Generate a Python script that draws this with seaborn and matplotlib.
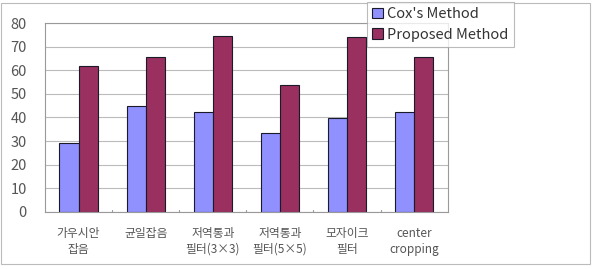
import matplotlib
matplotlib.use("Agg")
import matplotlib.pyplot as plt
import seaborn as sns
import pandas as pd
from matplotlib.patches import Rectangle

categories = ["가우시안\n잡음", "균일잡음", "저역통과\n필터(3×3)", "저역통과\n필터(5×5)", "모자이크\n필터", "center\ncropping"]
cox = [29, 45, 42.5, 33.5, 39.7, 42.3]
proposed = [62, 65.5, 74.6, 54, 74, 65.5]
series_names = ["Cox's Method", "Proposed Method"]
yticks = [0, 10, 20, 30, 40, 50, 60, 70, 80]

df = pd.DataFrame({
    "category": categories * 2,
    "value": cox + proposed,
    "method": [series_names[0]] * len(categories) + [series_names[1]] * len(categories),
})

sns.set_theme(style="white")
plt.rcParams['font.family'] = ['Noto Sans CJK KR', 'DejaVu Sans']

fig = plt.figure(figsize=(5.93, 2.69), dpi=100)
ax = fig.add_axes([45/593, 1-211.7/269, (447.7-45)/593, (211.7-23.3)/269])

sns.barplot(data=df, x="category", y="value", hue="method", order=categories,
            hue_order=series_names, palette=["#9090FF", "#99305F"], saturation=1,
            width=0.57, edgecolor="#1a1a2a", linewidth=0.8, ax=ax, legend=True)

ax.set_ylim(0, 80)
ax.set_xlim(-0.5, len(categories) - 0.5)
ax.set_yticks(yticks)
ax.set_yticklabels([str(v) for v in yticks], fontsize=10.5, color="#555555")
ax.yaxis.grid(True, color="#bbbbbb", linewidth=0.8)
ax.set_axisbelow(True)
ax.set_xlabel("")
ax.set_ylabel("")
ax.set_xticks(range(len(categories)))
ax.set_xticklabels(categories, fontsize=8.5, color="#555555", linespacing=1.3)
ax.tick_params(axis="x", length=0, pad=11)
ax.tick_params(axis="y", length=0, pad=13)
for x in [i + 0.5 for i in range(len(categories) - 1)]:
    ax.plot([x, x], [0, 0.8], color="#999999", linewidth=0.8, clip_on=False)
for s in ax.spines.values():
    s.set_color("#999999")
    s.set_linewidth(0.8)

handles, labels = ax.get_legend_handles_labels()
if ax.get_legend() is not None:
    ax.get_legend().remove()
for h in handles:
    h.set_edgecolor("#1a1a2a")
    h.set_linewidth(0.8)
leg = fig.legend(handles, labels, loc="upper left",
                 bbox_to_anchor=(366.7/593, 1-2/269), fontsize=10.5,
                 frameon=True, fancybox=False, handlelength=0.75, handleheight=0.75,
                 handletextpad=0.3, borderpad=0.35, labelspacing=0.45,
                 borderaxespad=0)
leg.get_frame().set_edgecolor("#aaaaaa")
leg.get_frame().set_linewidth(0.8)
for t in leg.get_texts():
    t.set_color("#333333")

fig.patches.append(Rectangle((0.001, 5/269), 589/593, 261/269, transform=fig.transFigure,
                             fill=False, edgecolor="#bbbbbb", linewidth=0.8))

fig.savefig("out.png", dpi=100)
